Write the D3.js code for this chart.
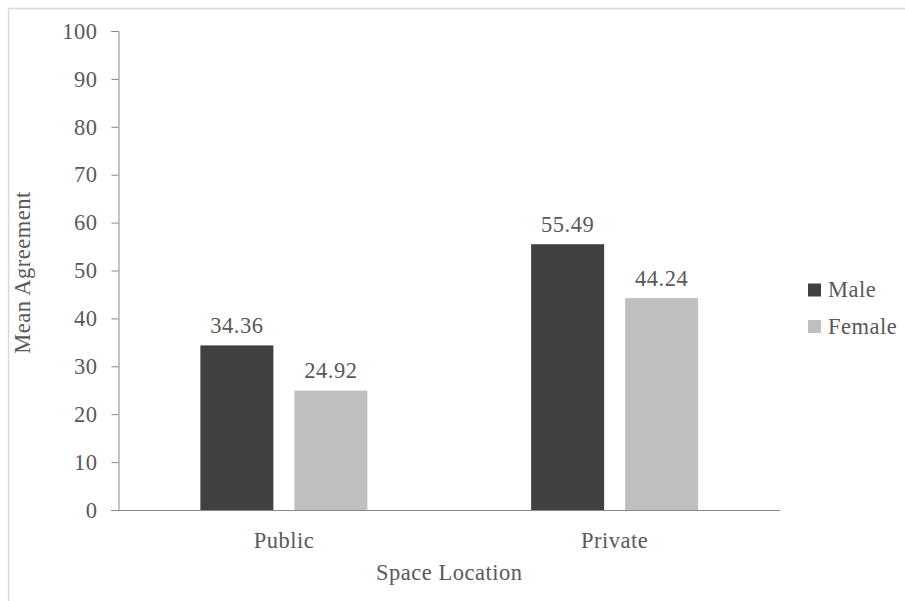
<!DOCTYPE html>
<html><head><meta charset="utf-8">
<script src="https://cdn.jsdelivr.net/npm/d3@7"></script>
<style>body{margin:0;background:#fff}svg{display:block}svg text{font-family:"Liberation Serif","Times New Roman",serif !important;fill:#595959}</style>
</head><body>
<svg id="c" width="905" height="601"></svg>
<script>
const categories = ["Public", "Private"];
const seriesNames = ["Male", "Female"];
const maleValues = [34.36, 55.49];
const femaleValues = [24.92, 44.24];
const yTicks = [0,10,20,30,40,50,60,70,80,90,100];
const colors = ["#404040", "#bfbfbf"];

const FF = "Liberation Serif";
const FS = "22.5px";
const LS = "0.5px";
const svg = d3.select("#c");
svg.append("rect").attr("x",8.5).attr("y",8.5).attr("width",905).attr("height",601)
  .attr("fill","none").attr("stroke","#d9d9d9").attr("stroke-width",1.5);

const L = 118.5, R = 780, T = 31, B = 510;
const x = d3.scaleBand().domain(categories).range([L, R]);
const y = d3.scaleLinear().domain([0,100]).range([B, T]);
const barW = 73, gap = 21, groupW = 2*barW + gap;

const data = categories.map((c,i)=>({cat:c, vals:[maleValues[i], femaleValues[i]]}));

// y axis
const yAxis = svg.append("g").attr("transform",`translate(${L},0)`)
  .call(d3.axisLeft(y).tickValues(yTicks).tickSize(7).tickPadding(14).tickFormat(d3.format("d")));
yAxis.attr("font-family",FF).attr("font-size",FS);
yAxis.select(".domain").attr("stroke","#868686");
yAxis.selectAll(".tick line").attr("stroke","#868686");
yAxis.selectAll("text").attr("fill","#595959").attr("letter-spacing",LS);

// bars
const g = svg.append("g").attr("font-family",FF).attr("font-size",FS);
data.forEach(d=>{
  const cx = x(d.cat) + x.bandwidth()/2;
  d.vals.forEach((v,j)=>{
    const bx = cx - groupW/2 + j*(barW+gap);
    g.append("rect").attr("x",bx).attr("y",y(v)).attr("width",barW).attr("height",y(0)-y(v)).attr("fill",colors[j]);
    g.append("text").attr("x",bx+barW/2).attr("y",y(v)-12.5).attr("text-anchor","middle").attr("letter-spacing",LS).text(v.toFixed(2));
  });
});

// x axis
const xAxis = svg.append("g").attr("transform",`translate(0,${B})`)
  .call(d3.axisBottom(x).tickSize(0).tickPadding(22));
xAxis.attr("font-family",FF).attr("font-size",FS);
xAxis.select(".domain").attr("stroke","#868686").attr("d",`M${L-7},0.5H${R}`);
xAxis.selectAll("text").attr("fill","#595959").attr("letter-spacing",LS);

// axis titles
svg.append("text").attr("x",(L+R)/2).attr("y",579.5).attr("text-anchor","middle").attr("font-family",FF).attr("font-size",FS).attr("letter-spacing",LS).text("Space Location");
svg.append("text").attr("transform",`translate(30,${(T+B)/2+2}) rotate(-90)`).attr("text-anchor","middle").attr("font-family",FF).attr("font-size",FS).attr("letter-spacing",LS).text("Mean Agreement");

// legend
seriesNames.forEach((n,i)=>{
  const ly = 283.5 + i*36.5;
  svg.append("rect").attr("x",808).attr("y",ly).attr("width",13).attr("height",13).attr("fill",colors[i]);
  svg.append("text").attr("x",828).attr("y",ly+13.5).attr("font-family",FF).attr("font-size",FS).attr("letter-spacing",LS).text(n);
});
</script>
</body></html>
